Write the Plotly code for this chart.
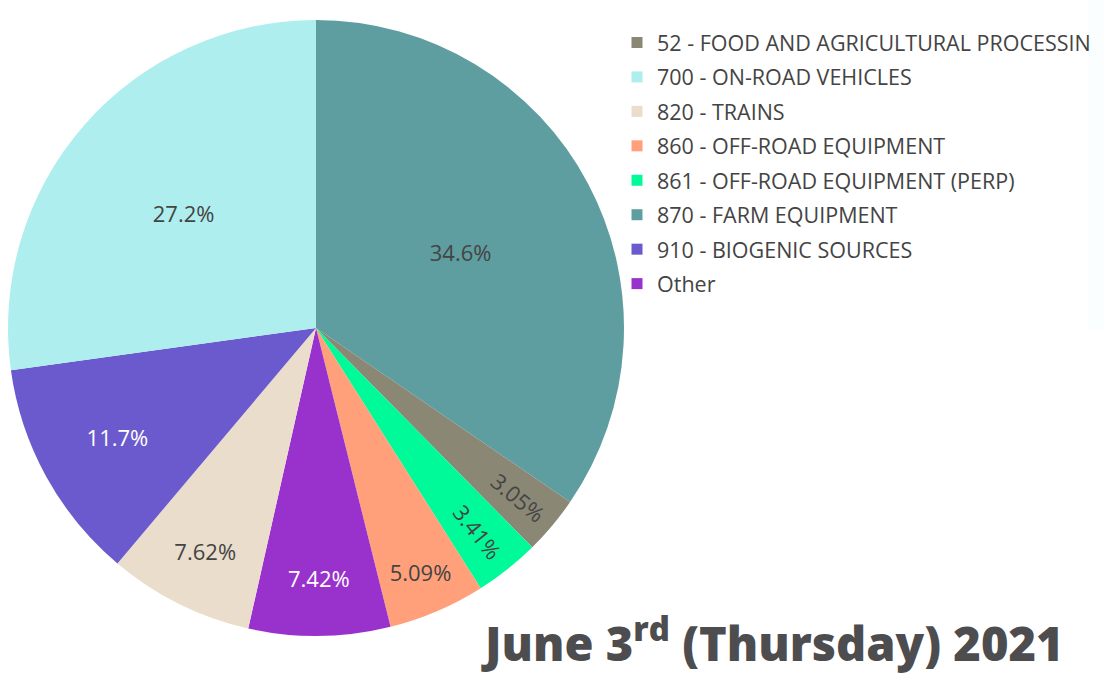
import plotly.graph_objects as go

# Slice order (clockwise from 12 o'clock)
labels = ["870 - FARM EQUIPMENT", "52 - FOOD AND AGRICULTURAL PROCESSIN",
          "861 - OFF-ROAD EQUIPMENT (PERP)", "860 - OFF-ROAD EQUIPMENT", "Other",
          "820 - TRAINS", "910 - BIOGENIC SOURCES", "700 - ON-ROAD VEHICLES"]
values = [34.56, 3.05, 3.41, 5.09, 7.42, 7.62, 11.66, 27.19]
colors = ["#5F9EA0", "#8A8775", "#00FA9A", "#FFA07A", "#9932CC",
          "#EADDCB", "#6A5ACD", "#AFEEEE"]

# Legend order (as displayed)
legend_order = ["52 - FOOD AND AGRICULTURAL PROCESSIN", "700 - ON-ROAD VEHICLES",
                "820 - TRAINS", "860 - OFF-ROAD EQUIPMENT",
                "861 - OFF-ROAD EQUIPMENT (PERP)", "870 - FARM EQUIPMENT",
                "910 - BIOGENIC SOURCES", "Other"]

title_text = "June 3<sup>rd</sup> (Thursday) 2021"

W, H = 1104, 677
cx, cy, r = 316, 328, 308

fig = go.Figure()
fig.add_trace(go.Pie(
    labels=labels, values=values, sort=False, direction="clockwise", rotation=0,
    marker=dict(colors=colors), textinfo="percent", showlegend=False,
    textfont=dict(family="Open Sans", size=22),
    insidetextorientation="auto",
    domain=dict(x=[(cx - r) / W, (cx + r) / W], y=[1 - (cy + r) / H, 1 - (cy - r) / H]),
))

color_map = dict(zip(labels, colors))
for i, lab in enumerate(legend_order):
    fig.add_trace(go.Scatter(
        x=[None], y=[None], mode="markers", name=lab, legendgroup=f"g{i}",
        marker=dict(symbol="square", size=11, color=color_map[lab]),
    ))

fig.add_annotation(
    text=title_text, x=1066 / W, y=0, xref="paper", yref="paper",
    xanchor="right", yanchor="bottom", showarrow=False,
    font=dict(family="Open Sans", size=47, color="#4D4D4F", weight=800),
)

fig.add_shape(type="rect", xref="paper", yref="paper",
              x0=1088 / W, x1=1, y0=1 - 330 / H, y1=1,
              fillcolor="#FAFEFE", line=dict(width=0), layer="below")

fig.update_layout(
    width=W, height=H, margin=dict(l=0, r=0, t=0, b=0),
    paper_bgcolor="white", plot_bgcolor="white",
    xaxis=dict(visible=False), yaxis=dict(visible=False),
    legend=dict(x=617 / W, y=1 - 22 / H, xanchor="left", yanchor="top",
                font=dict(family="Open Sans", size=21.5, color="#444"),
                bgcolor="rgba(0,0,0,0)", tracegroupgap=3.5),
    font=dict(family="Open Sans"),
)

fig.write_html("out.html")
